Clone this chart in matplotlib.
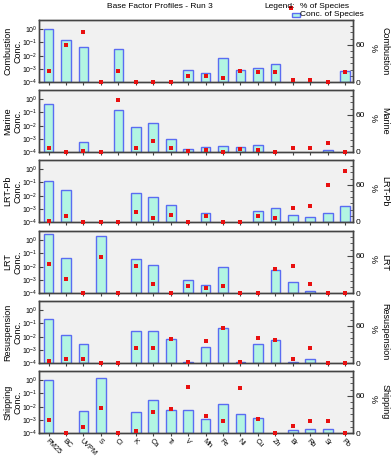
import numpy as np
import matplotlib
matplotlib.use('Agg')
import matplotlib.pyplot as plt
from matplotlib.ticker import FixedLocator, NullLocator

plt.rcParams['font.family'] = ['Liberation Sans', 'DejaVu Sans']
plt.rcParams['mathtext.fontset'] = 'custom'
plt.rcParams['mathtext.rm'] = 'Liberation Sans'
plt.rcParams['mathtext.it'] = 'Liberation Sans'

species = ['PM25', 'BC', 'UVPM', 'S', 'Cl', 'K', 'Ca', 'Ti', 'V', 'Mn',
           'Fe', 'Ni', 'Cu', 'Zn', 'Br', 'Rb', 'Sr', 'Pb']
factors = ['Combustion', 'Marine', 'LRT-Pb', 'LRT', 'Resuspension', 'Shipping']

nan = np.nan
# concentration of species (bars), nan = no bar
conc_combustion = [1.0, 0.16, 0.042, nan, 0.03, nan, nan, nan, 7.5e-4, 4.7e-4,
                   6.7e-3, 8e-4, 1.1e-3, 2.4e-3, nan, nan, nan, 6.6e-4]
conc_marine = [0.4, nan, 5.5e-4, nan, 0.15, 8.3e-3, 0.017, 1e-3, 1.7e-4, 2.3e-4,
               2.9e-4, 2.5e-4, 3.2e-4, nan, nan, nan, 1.5e-4, nan]
conc_lrtpb = [0.13, 0.026, nan, nan, nan, 0.016, 7.4e-3, 2e-3, nan, 4.7e-4,
              nan, nan, 7.4e-4, 1.1e-3, 3.2e-4, 2.5e-4, 5.2e-4, 1.7e-3]
conc_lrt = [2.8, 0.047, nan, 2.2, nan, 0.04, 0.013, nan, 9.4e-4, 3.8e-4,
            9.5e-3, nan, nan, 5.6e-3, 6.6e-4, 1.3e-4, nan, nan]
conc_resusp = [0.23, 0.014, 2.8e-3, nan, nan, 0.025, 0.025, 6.7e-3, 1.1e-4, 1.6e-3,
               0.045, 1.2e-4, 2.8e-3, 5.3e-3, 1.1e-4, 2.1e-4, nan, nan]
conc_shipping = [1.1, nan, 4.3e-3, 1.45, nan, 3.8e-3, 0.032, 6e-3, 5.3e-3, 1.1e-3,
                 0.015, 2.8e-3, 1.4e-3, nan, 1.7e-4, 2e-4, 2e-4, nan]

# percent of species (red squares)
pct_combustion = [18, 60, 80, 0, 17, 0, 0, 0, 10, 10, 7, 17, 16, 16, 4, 3, 0, 16]
pct_marine = [6, 0, 1, 0, 84, 7, 18, 6, 1, 4, 0, 5, 4, 0, 6, 7, 15, 0]
pct_lrtpb = [1.5, 10, 0, 0, 0, 16, 6, 12, 0, 10, 0, 0, 10, 7, 23, 26, 59, 82]
pct_lrt = [46, 22, 0, 58, 0, 43, 15, 0, 11, 8, 12, 0, 0, 38, 44, 14, 0, 0]
pct_resusp = [3, 6, 6, 0, 0, 25, 24, 39, 1, 35, 57, 2, 41, 37, 6, 24, 0, 0]
pct_shipping = [21, 0, 9, 40, 0, 3, 34, 39, 74, 28, 20, 72, 23, 0, 11, 20, 20, 0]

conc = [conc_combustion, conc_marine, conc_lrtpb, conc_lrt, conc_resusp, conc_shipping]
pct = [pct_combustion, pct_marine, pct_lrtpb, pct_lrt, pct_resusp, pct_shipping]

W, H = 392, 458
fig = plt.figure(figsize=(W / 100, H / 100), dpi=100)

tops = [20, 90, 160, 231, 301, 371]
ph = 62
x = np.arange(len(species))
fill = '#b2f5e2'
edge = '#5a6cf2'
spine_col = '#444444'
red = '#e81010'

for i, name in enumerate(factors):
    ax = fig.add_axes([39 / W, 1 - (tops[i] + ph) / H, 314 / W, ph / H])
    ax.set_facecolor('#f1f1f1')
    c = np.array(conc[i], dtype=float)
    ax.set_yscale('log')
    ax.bar(x, c - 1e-4, bottom=1e-4, width=0.55, color=fill, edgecolor=edge, linewidth=1.0, zorder=2)
    ax.set_ylim(1e-4, 5)
    ax.set_xlim(-0.55, 17.45)
    ax.yaxis.set_major_locator(FixedLocator([1e-4, 1e-3, 1e-2, 1e-1, 1]))
    ax.yaxis.set_minor_locator(NullLocator())
    ax.set_yticklabels(['$10^{-4}$', '$10^{-3}$', '$10^{-2}$', '$10^{-1}$', '$10^{0}$'])
    ax.tick_params(axis='y', direction='in', length=3, labelsize=5, pad=1, color=spine_col)
    ax.set_xticks(x)
    ax.tick_params(axis='x', direction='out', length=2, pad=1, color=spine_col)
    if i == len(factors) - 1:
        ax.set_xticklabels(species, rotation=-45, ha='left', va='top', fontsize=5.2,
                           rotation_mode='anchor')
    else:
        ax.set_xticklabels([])
    fig.text(13 / W, 1 - (tops[i] + ph / 2) / H, name + '\nConc.', rotation=90, fontsize=6.5,
             ha='center', va='center', multialignment='center', linespacing=1.1)

    ax2 = ax.twinx()
    ax2.plot(x, pct[i], 's', color=red, markersize=3, markeredgewidth=0, zorder=3,
             clip_on=False)
    ax2.set_ylim(0, 100)
    ax2.yaxis.set_major_locator(FixedLocator([0, 60]))
    ax2.yaxis.set_minor_locator(FixedLocator([10, 20, 30, 40, 50, 70, 80, 90]))
    ax2.tick_params(axis='y', which='major', direction='in', length=4, labelsize=6, pad=2,
                    color=spine_col)
    ax2.tick_params(axis='y', which='minor', direction='in', length=2.5, color=spine_col)
    fig.text(373 / W, 1 - (tops[i] + ph / 2 - 3) / H, '%', rotation=-90, fontsize=6.5,
             ha='center', va='center')
    fig.text(385 / W, 1 - (tops[i] + ph / 2) / H, name, rotation=-90, fontsize=6.5,
             ha='center', va='center')
    for a in (ax, ax2):
        for s in a.spines.values():
            s.set_color(spine_col)
            s.set_linewidth(1.0)

fig.text(160 / W, 1 - 6 / H, 'Base Factor Profiles - Run 3', fontsize=6, ha='center', va='center')
fig.text(264 / W, 1 - 6 / H, 'Legend:', fontsize=6, ha='left', va='center')
fig.text(300 / W, 1 - 6 / H, '% of Species', fontsize=6, ha='left', va='center')
fig.text(300 / W, 1 - 14 / H, 'Conc. of Species', fontsize=6, ha='left', va='center')
fig.patches.append(plt.Rectangle((289 / W, 1 - 10 / H), 4 / W, 4 / H, transform=fig.transFigure,
                                 facecolor=red, edgecolor='none'))
fig.patches.append(plt.Rectangle((292 / W, 1 - 17 / H), 8 / W, 4 / H, transform=fig.transFigure,
                                 facecolor=fill, edgecolor=edge, linewidth=1.0))

fig.savefig('out.png', dpi=100)
